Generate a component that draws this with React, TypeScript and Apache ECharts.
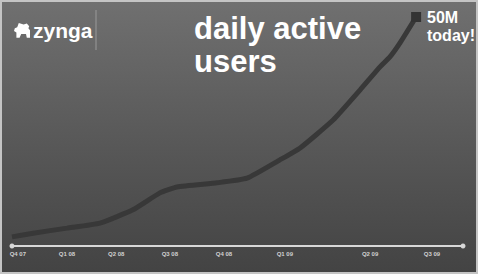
import React, { useEffect, useRef } from "react";
import * as echarts from "echarts";

// x positions on a 0..100 timeline, y = daily active users (millions)
const timePos = [0, 4.7, 12.2, 19.5, 26.8, 32.8, 36.6, 45.5, 52.1, 59.4, 63.9, 71.2, 77.2, 81.6, 83.8, 86.0, 89.6];
const dauMillions = [2.0, 2.8, 3.9, 5.0, 7.9, 11.6, 12.9, 13.8, 14.8, 18.8, 21.4, 27.5, 34.1, 39.1, 41.3, 44.3, 50.0];

const quarterLabels = ["Q4 07", "Q1 08", "Q2 08", "Q3 08", "Q4 08", "Q1 09", "Q2 09", "Q3 09"];
const quarterPos = [1.3, 12.2, 23.1, 35.0, 47.0, 60.5, 79.4, 93.1];

const dogPath =
  "M3 0 L6 1.5 L8 0.5 L9.5 3 L9 5 L10 7 L10 14 L8 14 L7.5 10.5 L4.5 10.5 L3.5 14 L1.5 14 L1.5 9 L0 7.5 L0.5 5 L2 4 Z";
echarts.graphic.registerShape("dog", echarts.graphic.extendPath(dogPath, {}) as any);

export default function App() {
  const ref = useRef<HTMLDivElement>(null);
  useEffect(() => {
    if (!ref.current) return;
    const chart = echarts.init(ref.current, undefined, { renderer: "svg" });
    const last = dauMillions.length - 1;
    chart.setOption({
      animation: false,
      backgroundColor: new echarts.graphic.LinearGradient(0, 0, 0, 1, [
        { offset: 0, color: "#707070" },
        { offset: 0.5, color: "#595959" },
        { offset: 1, color: "#434343" },
      ]),
      grid: { left: 12, right: 15, top: 17, bottom: 28, containLabel: false },
      xAxis: {
        type: "value",
        min: 0,
        max: 100,
        splitLine: { show: false },
        axisTick: { show: false },
        axisLine: {
          show: true,
          symbol: ["circle", "circle"],
          symbolSize: [5, 5],
          lineStyle: { color: "#d8d8d8", width: 2 },
        },
        axisLabel: {
          customValues: quarterPos,
          formatter: (v: number) => {
            const i = quarterPos.findIndex((p) => Math.abs(p - v) < 1e-6);
            return i >= 0 ? quarterLabels[i] : "";
          },
          color: "#d0d0d0",
          fontSize: 6,
          fontWeight: "bold",
          fontFamily: "Liberation Sans",
          margin: 5,
          hideOverlap: false,
        },
      },
      yAxis: { type: "value", min: 0, max: 50, show: false, splitLine: { show: false } },
      series: [
        {
          type: "line",
          data: timePos.map((x, i) => [x, dauMillions[i]]),
          smooth: 0.15,
          symbol: "rect",
          symbolSize: (_v: any, p: any) => (p.dataIndex === last ? 10 : 0),
          itemStyle: { color: "#333333" },
          lineStyle: { color: "#383838", width: 5 },
        },
      ],
      graphic: [
        {
          type: "rect",
          shape: { x: 1, y: 1, width: 476, height: 272 },
          style: { fill: "none", stroke: "#c4c4c4", lineWidth: 2 },
          silent: true,
        },
        {
          type: "dog",
          x: 14,
          y: 23,
          scaleX: 1.6,
          scaleY: 1.05,
          style: { fill: "#ffffff" },
        } as any,
        {
          type: "text",
          x: 33,
          y: 30,
          style: {
            text: "zynga",
            fill: "#ffffff",
            fontSize: 21,
            fontWeight: "bold",
            fontFamily: "Liberation Sans",
            textAlign: "left",
            textVerticalAlign: "middle",
          },
        },
        {
          type: "line",
          shape: { x1: 96, y1: 10, x2: 96, y2: 50 },
          style: { stroke: "#9a9a9a", lineWidth: 1 },
        },
        {
          type: "text",
          x: 194,
          y: 28,
          style: {
            text: "daily active",
            fill: "#ffffff",
            fontSize: 31,
            fontWeight: "bold",
            fontFamily: "Liberation Sans",
            textAlign: "left",
            textVerticalAlign: "middle",
          },
        },
        {
          type: "text",
          x: 194,
          y: 61,
          style: {
            text: "users",
            fill: "#ffffff",
            fontSize: 31,
            fontWeight: "bold",
            fontFamily: "Liberation Sans",
            textAlign: "left",
            textVerticalAlign: "middle",
          },
        },
        {
          type: "text",
          x: 427,
          y: 17,
          style: {
            text: "50M",
            fill: "#ffffff",
            fontSize: 16,
            fontWeight: "bold",
            fontFamily: "Liberation Sans",
            textAlign: "left",
            textVerticalAlign: "middle",
          },
        },
        {
          type: "text",
          x: 427,
          y: 35,
          style: {
            text: "today!",
            fill: "#ffffff",
            fontSize: 16,
            fontWeight: "bold",
            fontFamily: "Liberation Sans",
            textAlign: "left",
            textVerticalAlign: "middle",
          },
        },
      ],
    });
    return () => chart.dispose();
  }, []);
  return (
    <div
      ref={ref}
      style={{ position: "fixed", left: 0, top: 0, width: 478, height: 274 }}
    />
  );
}
